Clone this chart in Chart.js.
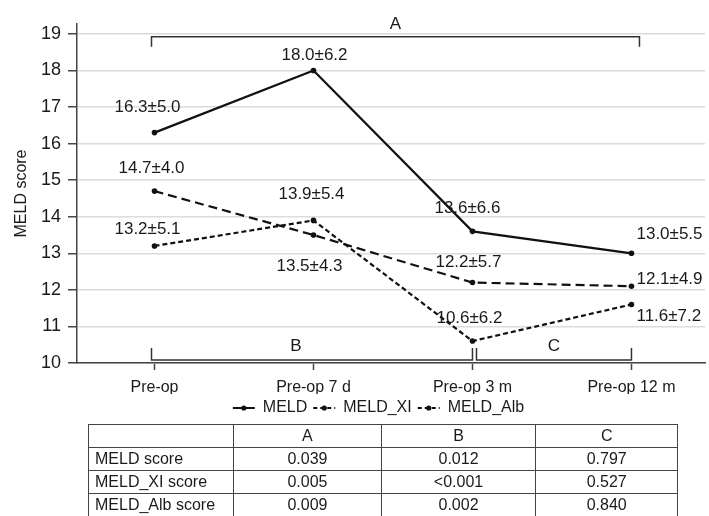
<!DOCTYPE html>
<html>
<head>
<meta charset="utf-8">
<script src="https://cdn.jsdelivr.net/npm/chart.js@4"></script>
<style>
body{margin:0;background:#fff;font-family:"Liberation Sans",Arial,sans-serif;}
#wrap{position:relative;width:709px;height:516px;overflow:hidden;}
#chart{position:absolute;left:0;top:0;}
#ptable{position:absolute;left:88px;top:424px;width:590px;border-collapse:collapse;font-size:16px;color:#1a1a1a;}
#ptable td{border:1.5px solid #444;height:22px;padding:0;text-align:center;line-height:22px;}
#ptable td.name{text-align:left;padding-left:6px;}
</style>
</head>
<body>
<div id="wrap">
<canvas id="chart" width="709" height="426"></canvas>
<table id="ptable"></table>
</div>
<script>
// time points
const categories = ["Pre-op","Pre-op 7 d","Pre-op 3 m","Pre-op 12 m"];
// mean scores
const meld    = [16.3, 18.0, 13.6, 13.0];
const meldXI  = [13.2, 13.9, 10.6, 11.6];
const meldAlb = [14.7, 13.5, 12.2, 12.1];
// standard deviations
const sdMeld    = [5.0, 6.2, 6.6, 5.5];
const sdMeldXI  = [5.1, 5.4, 6.2, 7.2];
const sdMeldAlb = [4.0, 4.3, 5.7, 4.9];
// comparison brackets (from / to index)
const brackets = [["A",0,3],["B",0,2],["C",2,3]];
// p-value table
const tableCols = ["A","B","C"];
const tableRows = ["MELD score","MELD_XI score","MELD_Alb score"];
const pMeld    = ["0.039","0.012","0.797"];
const pMeldXI  = ["0.005","<0.001","0.527"];
const pMeldAlb = ["0.009","0.002","0.840"];

const FONT = '"Liberation Sans", Arial, sans-serif';
const TXT = "#1a1a1a";

// label offsets in px relative to point: [dx, dy, align]
const labelPos = [
  [[-7,-25,"center"],[1,-15,"center"],[-5,-23,"center"],[5,-19,"left"]],
  [[-7,-17,"center"],[-2,-26,"center"],[-3,-23,"center"],[5,12,"left"]],
  [[-3,-23,"center"],[-4,31,"center"],[-4,-20,"center"],[5,-7,"left"]]
];

function pts(arr){ return arr.map((v,i)=>({x:i,y:v})); }

const labelPlugin = {
  id:"labels",
  afterLayout(chart){
    // legend sits a bit right of the canvas centre
    chart.legend.left += 24;
    chart.legend.right += 24;
  },
  afterDatasetsDraw(chart){
    const ctx = chart.ctx, xs = chart.scales.x, ys = chart.scales.y;
    const sds = [sdMeld, sdMeldXI, sdMeldAlb];
    const means = [meld, meldXI, meldAlb];
    ctx.save();
    ctx.font = "17px " + FONT;
    ctx.fillStyle = TXT;
    ctx.textBaseline = "middle";
    means.forEach((arr,s)=>{
      arr.forEach((v,i)=>{
        const p = labelPos[s][i];
        ctx.textAlign = p[2];
        ctx.fillText(v.toFixed(1)+"\u00b1"+sds[s][i].toFixed(1), xs.getPixelForValue(i)+p[0], ys.getPixelForValue(v)+p[1]);
      });
    });
    // brackets
    ctx.strokeStyle = "#333";
    ctx.lineWidth = 1.5;
    ctx.textAlign = "center";
    brackets.forEach(b=>{
      let x1 = xs.getPixelForValue(b[1]), x2 = xs.getPixelForValue(b[2]);
      let y, tip, ty;
      if(b[0]==="A"){
        x1 -= 3; x2 += 8;
        y = ys.getPixelForValue(19)+3; tip = y+10; ty = y-13;
      } else {
        if(b[0]==="B"){ x1 -= 3; } else { x1 += 4; }
        y = ys.getPixelForValue(10)-3; tip = y-12; ty = y-14;
      }
      ctx.beginPath();
      ctx.moveTo(x1,tip); ctx.lineTo(x1,y); ctx.lineTo(x2,y); ctx.lineTo(x2,tip);
      ctx.stroke();
      let tx = (x1+x2)/2;
      if(b[0]==="B") tx = xs.getPixelForValue(0.89);
      ctx.fillText(b[0], tx, ty);
    });
    // dots in legend
    const lg = chart.legend;
    if(lg && lg.legendHitBoxes){
      ctx.fillStyle = "#111";
      lg.legendHitBoxes.forEach(h=>{
        ctx.beginPath();
        ctx.arc(h.left+11, h.top+h.height/2, 2.6, 0, Math.PI*2);
        ctx.fill();
      });
    }
    ctx.restore();
  }
};

const ds = (label,data,dash)=>({
  label:label, data:pts(data),
  borderColor:"#111", backgroundColor:"#111",
  borderWidth:2.2, borderDash:dash,
  pointRadius:2.8, pointBackgroundColor:"#111", pointBorderWidth:0,
  tension:0
});

new Chart(document.getElementById("chart"),{
  type:"line",
  data:{datasets:[
    ds("MELD",meld,[]),
    ds("MELD_XI",meldXI,[5,3]),
    ds("MELD_Alb",meldAlb,[9,5])
  ]},
  options:{
    responsive:false,
    animation:false,
    layout:{padding:{top:24,left:0,right:0,bottom:0}},
    plugins:{
      tooltip:{enabled:false},
      legend:{
        position:"bottom",
        labels:{
          font:{size:16,family:FONT},
          color:TXT,
          usePointStyle:true, pointStyle:"line", pointStyleWidth:22,
          boxHeight:16,
          padding:6,
          generateLabels(chart){
            const items = Chart.defaults.plugins.legend.labels.generateLabels(chart);
            items.forEach(it=>{
              const d = chart.data.datasets[it.datasetIndex];
              it.lineWidth = 2;
              it.strokeStyle = "#111";
              it.lineDash = d.borderDash.length ? [4,3] : [];
            });
            return items;
          }
        }
      }
    },
    scales:{
      x:{
        type:"linear",
        min:-0.4875, max:3.4625,
        afterFit(s){ s.height = 31; },
        ticks:{
          stepSize:1, includeBounds:false, autoSkip:false, maxRotation:0,
          font:{size:16,family:FONT}, color:TXT, padding:8,
          callback:v=>categories[v]
        },
        grid:{drawOnChartArea:false, tickLength:7, tickColor:"#444", tickWidth:1.5},
        border:{color:"#444", width:1.5}
      },
      y:{
        min:10, max:19.27,
        afterFit(s){ s.width = 77; },
        title:{display:true,text:"MELD score",font:{size:16,family:FONT},color:TXT,padding:{top:12,bottom:0}},
        ticks:{
          stepSize:1, includeBounds:false,
          font:{size:18,family:FONT}, color:TXT, padding:7
        },
        grid:{color:"#dcdcdc", lineWidth:1.5, tickLength:9, tickColor:"#444", tickWidth:1.5},
        border:{color:"#444", width:1.5}
      }
    }
  },
  plugins:[labelPlugin]
});

// table
const tbl = document.getElementById("ptable");
const widths = [145,148,155,142];
let html = "<tr>" + ["",...tableCols].map((c,i)=>`<td style="width:${widths[i]}px">${c}</td>`).join("") + "</tr>";
[pMeld,pMeldXI,pMeldAlb].forEach((r,i)=>{
  html += `<tr><td class="name">${tableRows[i]}</td>` + r.map(v=>`<td>${v.replace("<","&lt;")}</td>`).join("") + "</tr>";
});
tbl.innerHTML = html;
</script>
</body>
</html>
